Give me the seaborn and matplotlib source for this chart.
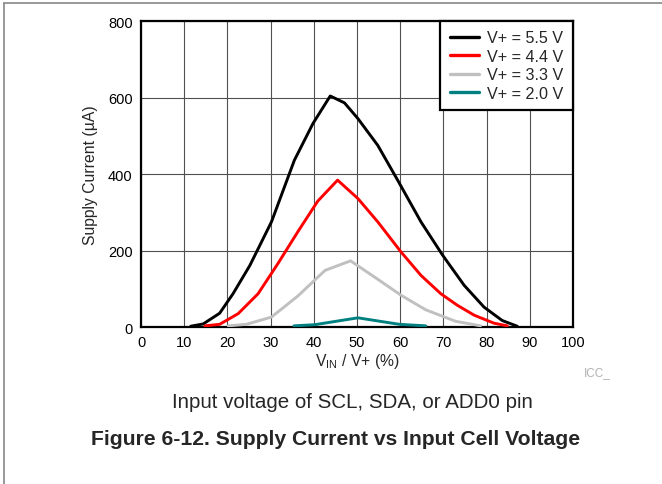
import numpy as np
import pandas as pd
import matplotlib
matplotlib.use("Agg")
import matplotlib.pyplot as plt
import seaborn as sns
from matplotlib.lines import Line2D

# ---------- data ----------
x_55 = [11.5, 14.4, 18.2, 21.3, 25.2, 30.2, 35.5, 39.8, 43.8, 47.1, 50.2, 54.8, 59.4, 64.8, 69.8, 74.8, 79.4, 83.6, 87.1]
y_55 = [2, 8, 36, 87, 161, 275, 436, 532, 604, 586, 545, 475, 384, 275, 188, 109, 52, 17, 2]

x_44 = [14.8, 18.2, 22.5, 27.1, 31.7, 36.3, 40.9, 45.5, 50.2, 54.8, 60.2, 64.8, 69.4, 73.2, 77.1, 81.7, 84.8]
y_44 = [3, 7, 35, 87, 166, 249, 329, 384, 336, 275, 196, 135, 87, 57, 31, 10, 3]

x_33 = [20.2, 24.4, 30.2, 36.3, 42.6, 48.5, 54.0, 60.2, 65.9, 72.8, 78.6]
y_33 = [3, 7, 26, 81, 148, 173, 131, 83, 45, 15, 3]

x_20 = [35.4, 40.2, 50.2, 59.8, 65.9]
y_20 = [3, 6, 24, 7, 3]

series_labels = ["V+ = 5.5 V", "V+ = 4.4 V", "V+ = 3.3 V", "V+ = 2.0 V"]
series_colors = ["#000000", "#ff0000", "#c0c0c0", "#008080"]

x_ticks = [0, 10, 20, 30, 40, 50, 60, 70, 80, 90, 100]
y_ticks = [0, 200, 400, 600, 800]

frames = []
for lab, xs, ys in zip(series_labels, [x_55, x_44, x_33, x_20], [y_55, y_44, y_33, y_20]):
    frames.append(pd.DataFrame({"vin": xs, "icc": ys, "supply": lab}))
df = pd.concat(frames, ignore_index=True)

# ---------- plot ----------
sns.set_style("white")
plt.rcParams["font.family"] = ["Liberation Sans", "DejaVu Sans"]
plt.rcParams["mathtext.fontset"] = "custom"
plt.rcParams["mathtext.rm"] = "Liberation Sans"

fig = plt.figure(figsize=(6.62, 4.85), dpi=100)
ax = fig.add_axes([0.213, 0.3237, 0.6526, 0.6309])

sns.lineplot(data=df, x="vin", y="icc", hue="supply", hue_order=series_labels,
             palette=dict(zip(series_labels, series_colors)), linewidth=2.1,
             sort=False, estimator=None, ax=ax, legend=False, zorder=3)

ax.set_xlim(0, 100)
ax.set_ylim(0, 800)
ax.set_xticks(x_ticks)
ax.set_yticks(y_ticks)
ax.tick_params(axis="both", labelsize=10.5, length=0, pad=6, colors="black")
ax.grid(True, color="#505050", linewidth=0.8)
for sp in ax.spines.values():
    sp.set_visible(True)
    sp.set_color("black")
    sp.set_linewidth(1.6)

ax.set_xlabel(r"V$_{\mathregular{IN}}$ / V+ (%)", fontsize=11.3, labelpad=1)
ax.set_ylabel("Supply Current (\u00b5A)", fontsize=11.3, labelpad=7)

handles = [Line2D([], [], color=c, linewidth=2.4) for c in series_colors]
leg = ax.legend(handles, series_labels, loc="upper right", fontsize=11.6,
                frameon=True, fancybox=False, borderaxespad=0.0,
                handlelength=1.85, labelspacing=0.22, borderpad=0.58, handletextpad=0.5)
leg.get_frame().set_edgecolor("black")
leg.get_frame().set_linewidth(1.6)
leg.get_frame().set_alpha(1)
leg.set_zorder(5)

fig.text(584 / 662, 1 - 373 / 485, "ICC_", fontsize=8.5, color="#b0b0b0", ha="left", va="center")
fig.text(352 / 662, 1 - 403 / 485, "Input voltage of SCL, SDA, or ADD0 pin",
         fontsize=14.8, ha="center", va="center")
fig.text(336 / 662, 1 - 440 / 485, "Figure 6-12. Supply Current vs Input Cell Voltage",
         fontsize=15.2, fontweight="bold", ha="center", va="center")

# outer frame of the datasheet figure (top and left edges visible)
fig.add_artist(Line2D([4 / 662, 4 / 662], [0, 1 - 4 / 485], transform=fig.transFigure,
                      color="#888888", linewidth=1.2))
fig.add_artist(Line2D([4 / 662, 1], [1 - 4 / 485, 1 - 4 / 485], transform=fig.transFigure,
                      color="#888888", linewidth=1.2))

fig.savefig("out.png", dpi=100)
